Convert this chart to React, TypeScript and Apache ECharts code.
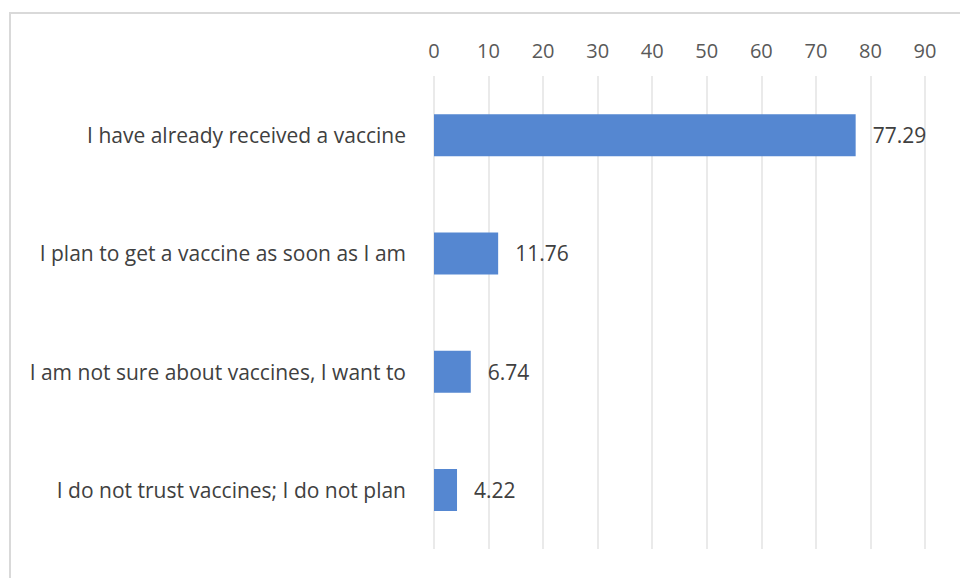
import React, { useEffect, useRef } from "react";
import * as echarts from "echarts";

const categories = [
  "I have already received a vaccine",
  "I plan to get a vaccine as soon as I am",
  "I am not sure about vaccines, I want to",
  "I do not trust vaccines; I do not plan",
];
const values = [77.29, 11.76, 6.74, 4.22];
const axisMin = 0;
const axisMax = 90;
const axisInterval = 10;

export default function App() {
  const ref = useRef<HTMLDivElement>(null);
  useEffect(() => {
    if (!ref.current) return;
    const chart = echarts.init(ref.current, null, { renderer: "svg" });
    chart.setOption({
      animation: false,
      backgroundColor: "#ffffff",
      textStyle: { fontFamily: "Open Sans" },
      graphic: [
        {
          type: "rect",
          shape: { x: 10, y: 13, width: 1000, height: 1000 },
          style: { fill: "none", stroke: "#d9d9d9", lineWidth: 2 },
          silent: true,
        },
      ],
      grid: { left: 434, right: 35, top: 76, bottom: 29, containLabel: false },
      xAxis: {
        type: "value",
        position: "top",
        min: axisMin,
        max: axisMax,
        interval: axisInterval,
        axisLine: { show: false },
        axisTick: { show: false },
        axisLabel: { color: "#595959", fontSize: 20, margin: 16 },
        splitLine: { show: true, lineStyle: { color: "#e3e3e3", width: 1.5 } },
      },
      yAxis: {
        type: "category",
        inverse: true,
        data: categories,
        axisLine: { show: false },
        axisTick: { show: false },
        axisLabel: { color: "#404040", fontSize: 21, margin: 28 },
      },
      series: [
        {
          type: "bar",
          data: values,
          barWidth: 42,
          itemStyle: { color: "#5587d1" },
          label: {
            show: true,
            position: "right",
            distance: 17,
            color: "#404040",
            fontSize: 21,
            formatter: (p: any) => p.value.toFixed(2),
          },
        },
      ],
    });
    return () => chart.dispose();
  }, []);
  return (
    <div
      ref={ref}
      style={{ position: "absolute", left: 0, top: 0, width: 960, height: 578 }}
    />
  );
}
